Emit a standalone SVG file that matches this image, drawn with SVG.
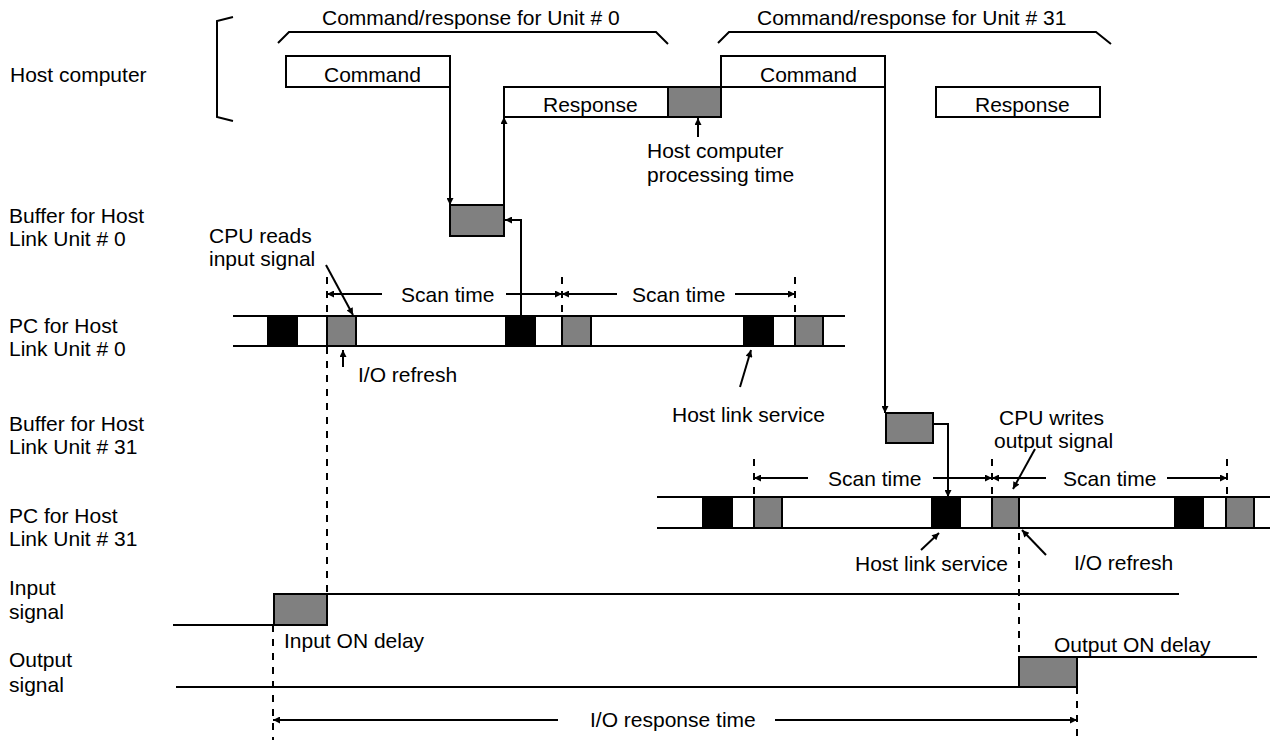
<svg xmlns="http://www.w3.org/2000/svg" width="1270" height="740" viewBox="0 0 1270 740">
<style>
text{font-family:"Liberation Sans",Arial,sans-serif;font-size:21px;fill:#000}
.ln{stroke:#000;stroke-width:2;fill:none}
.box{stroke:#000;stroke-width:2;fill:#fff}
.gray{stroke:#000;stroke-width:2;fill:#808080}
.blk{stroke:#000;stroke-width:2;fill:#000}
.dash{stroke:#000;stroke-width:2;fill:none;stroke-dasharray:7 7}
.arr{stroke:#000;stroke-width:2;fill:none;marker-end:url(#ah)}
</style>
<defs>
<marker id="ah" viewBox="0 0 10 10" refX="10" refY="5" markerWidth="9" markerHeight="7" markerUnits="userSpaceOnUse" orient="auto"><path d="M0,0 L10,5 L0,10 z" fill="#000"/></marker>
</defs>
<rect width="1270" height="740" fill="#fff"/>

<g id="row-labels">
<text x="10" y="82">Host computer</text>
<text x="9" y="223">Buffer for Host</text>
<text x="9" y="246">Link Unit # 0</text>
<text x="9" y="333">PC for Host</text>
<text x="9" y="356">Link Unit # 0</text>
<text x="9" y="431">Buffer for Host</text>
<text x="9" y="454">Link Unit # 31</text>
<text x="9" y="523">PC for Host</text>
<text x="9" y="546">Link Unit # 31</text>
<text x="9" y="595">Input</text>
<text x="9" y="619">signal</text>
<text x="9" y="667">Output</text>
<text x="9" y="692">signal</text>
</g>

<g id="host-bracket">
<polyline class="ln" points="233,17 217,21 217,117 233,121"/>
</g>

<g id="brace-unit0">
<polyline class="ln" points="278,43 289,32 656,32 668,44"/>
<text x="322" y="25">Command/response for Unit # 0</text>
</g>
<g id="brace-unit31">
<polyline class="ln" points="718,43 729,32 1096,32 1111,44"/>
<text x="757" y="25">Command/response for Unit # 31</text>
</g>

<g id="command0">
<rect class="box" x="286" y="56" width="164" height="31"/>
<text x="324" y="82">Command</text>
</g>
<g id="response0">
<rect class="box" x="504" y="87" width="164" height="30"/>
<text x="543" y="112">Response</text>
</g>
<g id="host-processing">
<rect class="gray" x="668" y="87" width="53" height="30"/>
<text x="647" y="158">Host computer</text>
<text x="647" y="182">processing time</text>
</g>
<g id="command31">
<rect class="box" x="721" y="56" width="164" height="31"/>
<text x="760" y="82">Command</text>
</g>
<g id="response31">
<rect class="box" x="936" y="87" width="164" height="30"/>
<text x="975" y="112">Response</text>
</g>

<g id="buffer0">
<rect class="gray" x="450" y="205" width="54" height="31"/>
</g>
<g id="buffer31">
<rect class="gray" x="886" y="413" width="47" height="30"/>
</g>

<g id="pc0">
<line class="ln" x1="233" y1="316" x2="845" y2="316"/>
<line class="ln" x1="233" y1="346" x2="845" y2="346"/>
<rect class="blk" x="268" y="316" width="29" height="30"/>
<rect class="gray" x="327" y="316" width="29" height="30"/>
<rect class="blk" x="506" y="316" width="29" height="30"/>
<rect class="gray" x="562" y="316" width="29" height="30"/>
<rect class="blk" x="744" y="316" width="29" height="30"/>
<rect class="gray" x="795" y="316" width="28" height="30"/>
<line class="dash" x1="562" y1="277" x2="562" y2="316"/>
<line class="dash" x1="795" y1="277" x2="795" y2="316"/>
<line class="arr" x1="382" y1="294" x2="327" y2="294"/>
<line class="arr" x1="506" y1="294" x2="562" y2="294"/>
<line class="arr" x1="617" y1="294" x2="562" y2="294"/>
<line class="arr" x1="735" y1="294" x2="795" y2="294"/>
<text x="401" y="302">Scan time</text>
<text x="632" y="302">Scan time</text>
<text x="209" y="243">CPU reads</text>
<text x="209" y="266">input signal</text>
<text x="358" y="382">I/O refresh</text>
<text x="672" y="422">Host link service</text>
</g>

<g id="pc31">
<line class="ln" x1="657" y1="497" x2="1270" y2="497"/>
<line class="ln" x1="657" y1="528" x2="1270" y2="528"/>
<rect class="blk" x="703" y="497" width="29" height="31"/>
<rect class="gray" x="754" y="497" width="28" height="31"/>
<rect class="blk" x="932" y="497" width="28" height="31"/>
<rect class="gray" x="992" y="497" width="27" height="31"/>
<rect class="blk" x="1175" y="497" width="28" height="31"/>
<rect class="gray" x="1226" y="497" width="28" height="31"/>
<line class="dash" x1="754" y1="459" x2="754" y2="497"/>
<line class="dash" x1="992" y1="459" x2="992" y2="497"/>
<line class="dash" x1="1227" y1="459" x2="1227" y2="497"/>
<line class="arr" x1="808" y1="478" x2="754" y2="478"/>
<line class="arr" x1="933" y1="478" x2="992" y2="478"/>
<line class="arr" x1="1046" y1="478" x2="992" y2="478"/>
<line class="arr" x1="1167" y1="478" x2="1227" y2="478"/>
<text x="828" y="486">Scan time</text>
<text x="1063" y="486">Scan time</text>
<text x="999" y="425">CPU writes</text>
<text x="994" y="448">output signal</text>
<text x="855" y="571">Host link service</text>
<text x="1074" y="570">I/O refresh</text>
</g>

<g id="input-signal">
<line class="ln" x1="173" y1="625" x2="274" y2="625"/>
<rect class="gray" x="274" y="594" width="53" height="31"/>
<line class="ln" x1="327" y1="594" x2="1179" y2="594"/>
<text x="284" y="648">Input ON delay</text>
</g>

<g id="output-signal">
<line class="ln" x1="176" y1="687" x2="1019" y2="687"/>
<rect class="gray" x="1019" y="657" width="58" height="30"/>
<line class="ln" x1="1077" y1="657" x2="1257" y2="657"/>
<text x="1054" y="652">Output ON delay</text>
</g>

<g id="io-response">
<line class="arr" x1="558" y1="720" x2="273" y2="720"/>
<line class="arr" x1="775" y1="720" x2="1077" y2="720"/>
<text x="590" y="727">I/O response time</text>
</g>

<g id="connectors">
<line class="arr" x1="450" y1="87" x2="450" y2="205"/>
<line class="arr" x1="504" y1="205" x2="504" y2="117"/>
<polyline class="arr" points="521,316 521,220 505,220"/>
<line class="arr" x1="885" y1="87" x2="885" y2="413"/>
<polyline class="arr" points="933,424 948,424 948,497"/>
<line class="arr" x1="698" y1="137" x2="698" y2="118"/>
<line class="arr" x1="326" y1="265" x2="353" y2="315"/>
<line class="arr" x1="343" y1="367" x2="343" y2="350"/>
<line class="arr" x1="740" y1="387" x2="751" y2="350"/>
<line class="arr" x1="1035" y1="449" x2="1013" y2="489"/>
<line class="arr" x1="921" y1="550" x2="939" y2="533"/>
<line class="arr" x1="1046" y1="555" x2="1022" y2="530"/>
<line class="dash" x1="327" y1="277" x2="327" y2="594"/>
<line class="dash" x1="273" y1="625" x2="273" y2="740"/>
<line class="dash" x1="1019" y1="533" x2="1019" y2="657"/>
<line class="dash" x1="1077" y1="687" x2="1077" y2="740"/>
</g>
</svg>
